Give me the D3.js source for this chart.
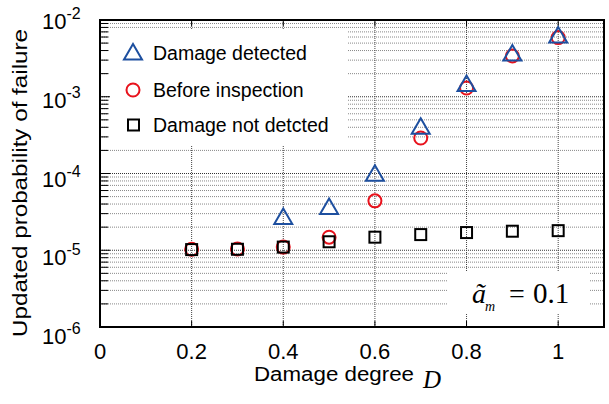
<!DOCTYPE html>
<html lang="en">
<head>
<meta charset="UTF-8">
<script src="https://d3js.org/d3.v7.min.js"></script>
<title>Updated probability of failure</title>
<style>
  body { margin: 0; background: #fff; }
  svg { display: block; }
</style>
</head>
<body>
<div id="chart"></div>
<script>
const width = 609, height = 404;

// data
const damage = [0.2, 0.3, 0.4, 0.5, 0.6, 0.7, 0.8, 0.9, 1.0];
const before = [1.03e-5, 1.04e-5, 1.1e-5, 1.48e-5, 4.4e-5, 2.9e-4, 1.3e-3, 3.4e-3, 5.9e-3];
const notDetected = [1.02e-5, 1.03e-5, 1.1e-5, 1.29e-5, 1.48e-5, 1.6e-5, 1.7e-5, 1.77e-5, 1.8e-5];
const detectedX = [0.4, 0.5, 0.6, 0.7, 0.8, 0.9, 1.0];
const detected = [2.6e-5, 3.5e-5, 9.5e-5, 3.9e-4, 1.4e-3, 3.5e-3, 6.0e-3];
const xTicks = [0, 0.2, 0.4, 0.6, 0.8, 1];
const yDecades = [-2, -3, -4, -5, -6];
const legendLabels = ["Damage detected", "Before inspection", "Damage not detcted"];

const blue = "#1d4f9f", red = "#e8121c";

const x = d3.scaleLinear().domain([0, 1.1]).range([100, 604]);
const y = d3.scaleLog().domain([1e-6, 1e-2]).range([327, 20]);

const svg = d3.select("#chart").append("svg")
  .attr("width", width).attr("height", height)
  .style("font-family", "'Liberation Sans', Arial, sans-serif");

// horizontal grid at every minor value
const minor = [];
for (let d = -6; d < -2; d++)
  for (let k = 1; k < 10; k++) minor.push({ v: k * Math.pow(10, d), major: k === 1 });

const grid = svg.append("g");
grid.selectAll("line.h")
  .data(minor.filter(m => m.v > 1e-6))
  .enter().append("line")
  .attr("x1", x(0)).attr("x2", x(1.1))
  .attr("y1", d => y(d.v)).attr("y2", d => y(d.v))
  .attr("stroke", d => d.major ? "#333" : "#888")
  .attr("stroke-width", 1)
  .attr("stroke-dasharray", "1,1");

grid.selectAll("line.v")
  .data(xTicks.filter(t => t > 0))
  .enter().append("line")
  .attr("x1", d => x(d)).attr("x2", d => x(d))
  .attr("y1", y(1e-2)).attr("y2", y(1e-6))
  .attr("stroke", "#444")
  .attr("stroke-dasharray", "1,1");

// white boxes behind legend and annotation
svg.append("rect").attr("x", 109).attr("y", 29).attr("width", 238).attr("height", 117).attr("fill", "#fff");
svg.append("rect").attr("x", 447).attr("y", 271).attr("width", 143).attr("height", 42).attr("fill", "#fff");

// ticks inside the frame
const tk = svg.append("g").attr("stroke", "#000").attr("stroke-width", 1);
tk.selectAll("line.l")
  .data(minor.filter(m => m.v > 1e-6))
  .enter().append("line")
  .attr("x1", x(0)).attr("x2", d => x(0) + (d.major ? 10 : 8))
  .attr("y1", d => y(d.v)).attr("y2", d => y(d.v));
tk.selectAll("line.b")
  .data(xTicks.filter(t => t > 0))
  .enter().append("line")
  .attr("x1", d => x(d)).attr("x2", d => x(d))
  .attr("y1", y(1e-6)).attr("y2", y(1e-6) - 6);
tk.selectAll("line.t")
  .data(xTicks.filter(t => t > 0))
  .enter().append("line")
  .attr("x1", d => x(d)).attr("x2", d => x(d))
  .attr("y1", y(1e-2)).attr("y2", y(1e-2) + 6);

// frame
svg.append("rect")
  .attr("x", x(0)).attr("y", y(1e-2))
  .attr("width", x(1.1) - x(0)).attr("height", y(1e-6) - y(1e-2))
  .attr("fill", "none").attr("stroke", "#000").attr("stroke-width", 2);

// x tick labels
svg.selectAll("text.xt")
  .data(xTicks)
  .enter().append("text")
  .attr("x", d => x(d)).attr("y", 359)
  .attr("text-anchor", "middle")
  .style("font-size", "22px")
  .text(d => d === 0 || d === 1 ? String(d) : d.toFixed(1));

// y tick labels 10^n
const yl = svg.selectAll("text.yt")
  .data(yDecades)
  .enter().append("text")
  .attr("x", 42)
  .attr("y", (d, i) => y(Math.pow(10, d)) + 9 + 2 * i)
  .style("font-size", "22px");
yl.append("tspan").text("10");
yl.append("tspan").attr("dy", -10).style("font-size", "16px").text(d => String(d));

// axis titles
svg.append("text")
  .attr("transform", "translate(27,183) rotate(-90)")
  .attr("text-anchor", "middle")
  .attr("textLength", 308).attr("lengthAdjust", "spacingAndGlyphs")
  .style("font-size", "20px")
  .text("Updated probability of failure");

svg.append("text")
  .attr("x", 254).attr("y", 381)
  .attr("textLength", 160).attr("lengthAdjust", "spacingAndGlyphs")
  .style("font-size", "20px")
  .text("Damage degree");
svg.append("text")
  .attr("x", 423).attr("y", 388)
  .style("font-family", "'Liberation Serif', 'DejaVu Serif', serif")
  .style("font-style", "italic")
  .style("font-size", "25px")
  .text("D");

// annotation
const ann = svg.append("g").style("font-family", "'Liberation Serif', 'DejaVu Serif', serif");
ann.append("text").attr("x", 472).attr("y", 303)
  .style("font-style", "italic").style("font-size", "28px").text("ã");
ann.append("text").attr("x", 485).attr("y", 311)
  .style("font-style", "italic").style("font-size", "14px").text("m");
ann.append("text").attr("x", 509).attr("y", 303)
  .style("font-size", "28px").text("=");
ann.append("text").attr("x", 533).attr("y", 303)
  .style("font-size", "29px").text("0.1");

// markers
svg.append("g").selectAll("circle")
  .data(damage)
  .enter().append("circle")
  .attr("cx", d => x(d)).attr("cy", (d, i) => y(before[i]))
  .attr("r", 6.5)
  .attr("fill", "none").attr("stroke", red).attr("stroke-width", 2);

svg.append("g").selectAll("rect")
  .data(damage)
  .enter().append("rect")
  .attr("x", d => x(d) - 5.5).attr("y", (d, i) => y(notDetected[i]) - 5.5)
  .attr("width", 11).attr("height", 11)
  .attr("fill", "none").attr("stroke", "#000").attr("stroke-width", 2);

const tri = "M0,-10L9,5.5L-9,5.5Z";
svg.append("g").selectAll("path")
  .data(detectedX)
  .enter().append("path")
  .attr("transform", (d, i) => `translate(${x(d)},${y(detected[i])})`)
  .attr("d", tri)
  .attr("fill", "none").attr("stroke", blue).attr("stroke-width", 2);

// legend
const lg = svg.append("g");
const rows = [53, 90, 125];
lg.append("path").attr("transform", `translate(133,${rows[0] + 1})`).attr("d", tri)
  .attr("fill", "none").attr("stroke", blue).attr("stroke-width", 2);
lg.append("circle").attr("cx", 133).attr("cy", rows[1]).attr("r", 6.5)
  .attr("fill", "none").attr("stroke", red).attr("stroke-width", 2);
lg.append("rect").attr("x", 128).attr("y", rows[2] - 5.5).attr("width", 11).attr("height", 11)
  .attr("fill", "none").attr("stroke", "#000").attr("stroke-width", 2);
lg.selectAll("text")
  .data(legendLabels)
  .enter().append("text")
  .attr("x", 153).attr("y", (d, i) => rows[i] + 7)
  .style("font-size", "19.5px")
  .text(d => d);
</script>
</body>
</html>
